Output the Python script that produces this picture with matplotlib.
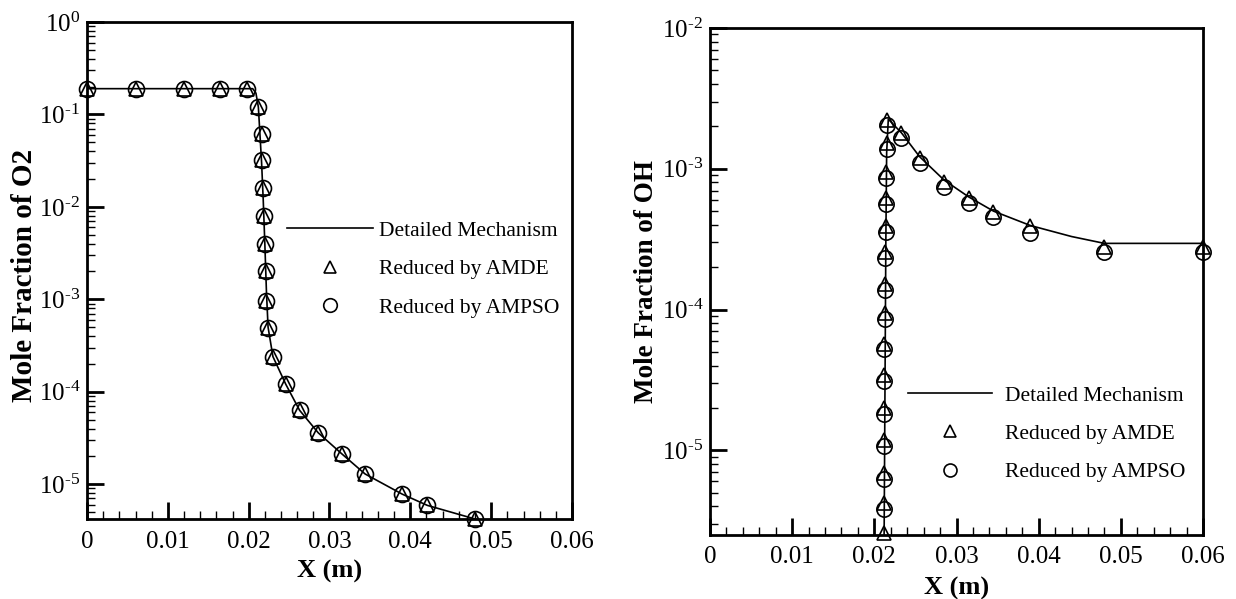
import math
import matplotlib
matplotlib.use("Agg")
import matplotlib.pyplot as plt
from matplotlib.ticker import LogLocator, MultipleLocator, FixedLocator, FuncFormatter, NullFormatter

plt.rcParams['font.family'] = ['Liberation Serif', 'DejaVu Serif']
plt.rcParams['mathtext.fontset'] = 'custom'
plt.rcParams['mathtext.rm'] = 'Liberation Serif'

# ---------------- O2 (left panel) ----------------
o2_line_x = [0.0, 0.0205, 0.0209, 0.0212, 0.0214, 0.0216, 0.0218, 0.0220, 0.0222, 0.0224,
             0.0230, 0.0246, 0.0263, 0.0286, 0.0316, 0.0344, 0.0390, 0.0421, 0.0480, 0.0520]
o2_line_y = [0.19, 0.19, 0.17, 0.12, 0.06, 0.03, 0.012, 0.004, 0.0012, 5.0e-4,
             2.4e-4, 1.2e-4, 6.3e-5, 3.6e-5, 2.1e-5, 1.29e-5, 7.8e-6, 5.9e-6, 4.2e-6, 3.5e-6]

o2_amde_x = [0.0, 0.006, 0.012, 0.0165, 0.0198, 0.0211, 0.0216, 0.0217, 0.0218, 0.0219,
             0.0220, 0.0221, 0.0222, 0.0224, 0.0230, 0.0246, 0.0263, 0.0286, 0.0316, 0.0344,
             0.0390, 0.0421, 0.0480]
o2_amde_y = [0.19, 0.19, 0.19, 0.19, 0.19, 0.12, 0.062, 0.032, 0.016, 0.008,
             0.004, 0.002, 9.7e-4, 4.9e-4, 2.4e-4, 1.2e-4, 6.3e-5, 3.6e-5, 2.1e-5, 1.29e-5,
             7.8e-6, 5.9e-6, 4.2e-6]
o2_ampso_x = [0.0, 0.006, 0.012, 0.0165, 0.0198, 0.0211, 0.0216, 0.0217, 0.0218, 0.0219,
              0.0220, 0.0221, 0.0222, 0.0224, 0.0230, 0.0246, 0.0263, 0.0286, 0.0316, 0.0344,
              0.0390, 0.0421, 0.0480]
o2_ampso_y = [0.19, 0.19, 0.19, 0.19, 0.19, 0.12, 0.062, 0.032, 0.016, 0.008,
              0.004, 0.002, 9.7e-4, 4.9e-4, 2.4e-4, 1.2e-4, 6.3e-5, 3.6e-5, 2.1e-5, 1.29e-5,
              7.8e-6, 5.9e-6, 4.2e-6]

# ---------------- OH (right panel) ----------------
oh_line_x = [0.0210, 0.0212, 0.0213, 0.0214, 0.0215, 0.0217, 0.0233, 0.0255, 0.0285,
             0.0315, 0.0345, 0.0390, 0.0440, 0.0480, 0.0600]
oh_line_y = [1e-7, 3e-6, 3e-5, 3e-4, 1.3e-3, 2.25e-3, 1.8e-3, 1.22e-3, 8.3e-4,
             6.3e-4, 5.0e-4, 3.95e-4, 3.3e-4, 2.95e-4, 2.95e-4]

oh_amde_x = [0.0212, 0.0212, 0.0212, 0.0212, 0.0212, 0.0212, 0.0212, 0.0213, 0.0213,
             0.0213, 0.0214, 0.0214, 0.0214, 0.0215, 0.0216, 0.0233, 0.0255, 0.0285,
             0.0315, 0.0345, 0.0390, 0.0480, 0.0600]
oh_amde_y = [2.6e-6, 4.2e-6, 6.9e-6, 1.18e-5, 2.0e-5, 3.4e-5, 5.7e-5, 9.4e-5, 1.52e-4,
             2.57e-4, 3.93e-4, 6.2e-4, 9.5e-4, 1.52e-3, 2.23e-3, 1.8e-3, 1.2e-3, 8.1e-4,
             6.2e-4, 4.9e-4, 3.9e-4, 2.8e-4, 2.8e-4]
oh_ampso_x = [0.0212, 0.0212, 0.0212, 0.0212, 0.0212, 0.0212, 0.0213, 0.0213, 0.0213,
              0.0214, 0.0214, 0.0214, 0.0215, 0.0216, 0.0233, 0.0255, 0.0285, 0.0315,
              0.0345, 0.0390, 0.0480, 0.0600]
oh_ampso_y = [3.8e-6, 6.3e-6, 1.07e-5, 1.82e-5, 3.1e-5, 5.2e-5, 8.5e-5, 1.38e-4, 2.34e-4,
              3.57e-4, 5.6e-4, 8.6e-4, 1.38e-3, 2.05e-3, 1.66e-3, 1.1e-3, 7.45e-4, 5.75e-4,
              4.57e-4, 3.5e-4, 2.58e-4, 2.58e-4]

x_ticks = [0, 0.01, 0.02, 0.03, 0.04, 0.05, 0.06]
x_tick_labels = ["0", "0.01", "0.02", "0.03", "0.04", "0.05", "0.06"]
labels = ["Detailed Mechanism", "Reduced by AMDE", "Reduced by AMPSO"]

TICK_FS = 18
LEG_FS = 15.5

fig = plt.figure(figsize=(12.36, 5.99), dpi=100)
axL = fig.add_axes([87/1236, 1-519/599, (572-87)/1236, (519-22)/599])
axR = fig.add_axes([710/1236, 1-535/599, (1203-710)/1236, (535-28)/599])


def logfmt(v, pos):
    e = int(round(math.log10(v)))
    if e < 0:
        return '$\\mathregular{10^{\u2010%d}}$' % (-e)
    return '$\\mathregular{10^{%d}}$' % e


def style(ax, ylim, ylabel, ylab_fs, ylab_x, ylab_y, xpad, xlab_y):
    ax.set_yscale('log')
    ax.set_xlim(0, 0.06)
    ax.set_ylim(*ylim)
    ax.xaxis.set_major_locator(FixedLocator(x_ticks))
    ax.set_xticklabels(x_tick_labels)
    ax.xaxis.set_minor_locator(MultipleLocator(0.002))
    ax.yaxis.set_major_locator(LogLocator(base=10, numticks=20))
    ax.yaxis.set_minor_locator(LogLocator(base=10, subs=range(2, 10), numticks=20))
    ax.yaxis.set_major_formatter(FuncFormatter(logfmt))
    ax.yaxis.set_minor_formatter(NullFormatter())
    ax.tick_params(which='both', direction='in', top=False, right=False, labelsize=TICK_FS)
    ax.tick_params(which='major', length=12, width=2)
    ax.tick_params(which='minor', length=6, width=1)
    ax.tick_params(axis='x', which='major', pad=xpad)
    ax.tick_params(axis='y', which='major', pad=5)
    for s in ax.spines.values():
        s.set_linewidth(2)
    ax.set_xlabel("X (m)", fontsize=19, fontweight='bold')
    ax.set_ylabel(ylabel, fontsize=ylab_fs, fontweight='bold')
    ax.xaxis.set_label_coords(0.5, xlab_y)
    ax.yaxis.set_label_coords(ylab_x, ylab_y)


# Left panel
axL.plot(o2_line_x, o2_line_y, color='black', lw=1.2, label=labels[0])
axL.plot(o2_amde_x, o2_amde_y, ls='none', marker='^', ms=10, mfc='none', mec='black',
         mew=1.2, clip_on=False, label=labels[1])
axL.plot(o2_ampso_x, o2_ampso_y, ls='none', marker='o', ms=11.5, mfc='none', mec='black',
         mew=1.2, clip_on=False, label=labels[2])
style(axL, (4.2e-6, 1.0), "Mole Fraction of O2", 21, -0.102, 0.49, 9, -0.082)
axL.legend(loc='upper left', bbox_to_anchor=(0.412, 0.60), frameon=False, fontsize=LEG_FS,
           handlelength=4.0, handletextpad=0.3, labelspacing=0.85, borderpad=0,
           borderaxespad=0, markerscale=0.85)

# Right panel
axR.plot(oh_line_x, oh_line_y, color='black', lw=1.2, label=labels[0])
axR.plot(oh_amde_x, oh_amde_y, ls='none', marker='^', ms=10, mfc='none', mec='black',
         mew=1.2, clip_on=False, label=labels[1])
axR.plot(oh_ampso_x, oh_ampso_y, ls='none', marker='o', ms=11, mfc='none', mec='black',
         mew=1.2, clip_on=False, label=labels[2])
style(axR, (2.5e-6, 1e-2), "Mole Fraction of OH", 19.5, -0.104, 0.5, 8, -0.082)
axR.legend(loc='upper left', bbox_to_anchor=(0.402, 0.295), frameon=False, fontsize=LEG_FS,
           handlelength=3.9, handletextpad=0.6, labelspacing=0.85, borderpad=0,
           borderaxespad=0, markerscale=0.85)

fig.savefig("out.png", dpi=100)
